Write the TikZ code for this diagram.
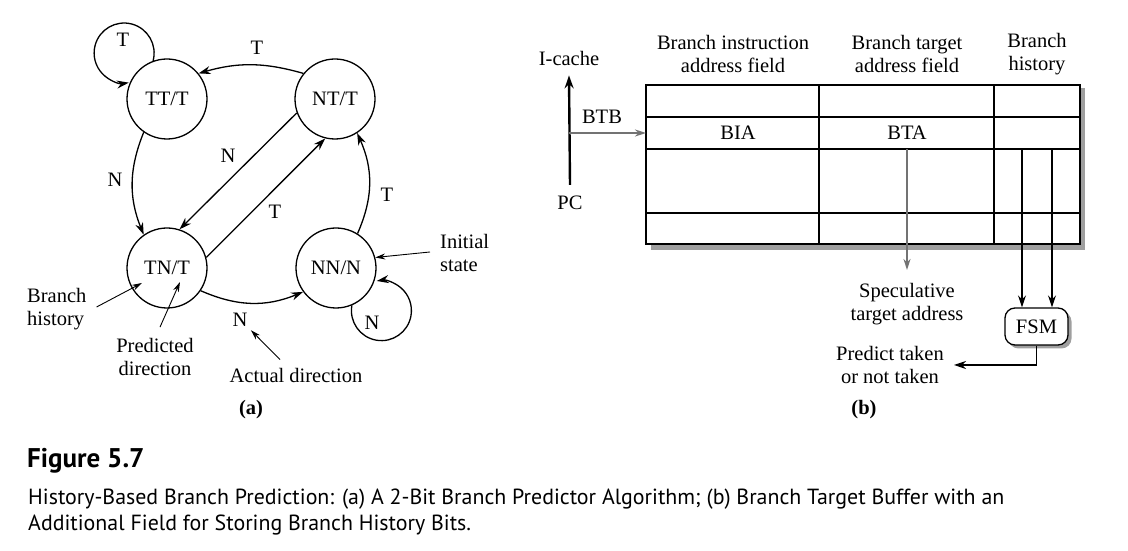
\documentclass[tikz,border=0pt]{standalone}
\usepackage{fontspec}
\setmainfont{Liberation Serif}
\newfontfamily\capfont{PT Sans}
\usetikzlibrary{arrows.meta}
\begin{document}
\begin{tikzpicture}[x=1pt,y=1pt,
  every node/.style={font=\fontsize{20.5}{23}\selectfont}]
  \tikzset{ st/.style={circle,draw,line width=1.3pt,minimum size=80pt,inner sep=0pt},
    arr/.style={line width=1.3pt,-{Stealth[length=12pt,width=8pt]}},
    ann/.style={line width=0.9pt,-{Stealth[length=10pt,width=6pt]}},
    gar/.style={line width=1.8pt,black!55,-{Stealth[length=11pt,width=7pt]}},
    txt/.style={inner sep=1pt,align=center},
    cell/.style={inner sep=0pt,minimum height=32pt},
  }
  \useasboundingbox (0,0) rectangle (1128,551);

  % (a) the four states
  \node[st] (TT) at (167,452) {TT/T};
  \node[st] (NT) at (335,452) {NT/T};
  \node[st] (TN) at (167,283) {TN/T};
  \node[st] (NN) at (336,283) {NN/N};

  % the transitions between the states
  \draw[arr] (TT.110) arc[start angle=-15,end angle=279,radius=30];
  \draw[arr] (NT.141) to[bend right=16] (TT.39);
  \draw[arr] (TT.235) to[bend right=22] (TN.125);
  \draw[arr] (NT.200) -- (TN.72);
  \draw[arr] (TN.15) -- (NT.256);
  \draw[arr] (NN.58) to[bend right=24] (NT.303);
  \draw[arr] (TN.326) to[bend right=23] (NN.216);
  \draw[arr] (NN.293) arc[start angle=170,end angle=459,radius=30];

  \node (lT1) at (123,511) {T};
  \node (lT2) at (257,503) {T};
  \node (lN1) at (115,371) {N};
  \node (lN2) at (228,395) {N};
  \node (lT3) at (275,339) {T};
  \node (lT4) at (387,356) {T};
  \node (lN3) at (240,231) {N};
  \node (lN4) at (372,228) {N};

  % notes
  \node[txt,align=left,anchor=west] (init) at (439,298) {Initial\\state};
  \draw[ann] ([xshift=-9pt,yshift=1pt]init.west) -- (NN.15);
  \node[txt,align=left,anchor=west] (hist) at (26,242) {Branch\\history};
  \draw[ann] ([xshift=9pt,yshift=2pt]hist.east) -- ([shift={(-25pt,-15pt)}]TN.center);
  \node[txt] (pred) at (155,194) {Predicted\\direction};
  \draw[ann] ([xshift=5pt,yshift=10pt]pred.north) -- ([shift={(13pt,-14pt)}]TN.center);
  \node[txt] (act) at (296,176) {Actual direction};
  \draw[ann] ([xshift=-16pt,yshift=7pt]act.north) -- (lN3.south east);
  \node[font=\fontsize{20.5}{23}\selectfont\bfseries] (la) at (251,141) {(a)};

  % (b) the buffer
  \fill[gray!75] (651,301) rectangle (1085,463);
  \draw[fill=white,line width=1.3pt] (646,307) rectangle (1080,466);
  \foreach \y in {434,402,338} \draw[line width=1.2pt] (646,\y) -- (1080,\y);
  \foreach \x in {819,994} \draw[line width=1.2pt] (\x,307) -- (\x,466);
  \node[cell] (BIA) at (738,418) {BIA};
  \node[cell] (BTA) at (907,418) {BTA};

  \node[txt] (hBIA) at (733,497) {Branch instruction\\address field};
  \node[txt] (hBTA) at (907,497) {Branch target\\address field};
  \node[txt] (hBH) at (1037,497) {Branch\\history};

  \node[txt] (ic) at (569,493) {I-cache};
  \node[txt] (PC) at (570,348) {PC};
  \node[txt] (btb) at (602,434) {BTB};
  \draw[line width=2.4pt,-{Stealth[length=13pt,width=9pt]}] ([yshift=10pt]PC.north) -- ([yshift=-9pt]ic.south);
  \coordinate (tap) at (569,418);
  \coordinate (tblW) at (646,418);
  \draw[gar] (tap) -- (tblW);

  \node[txt] (spec) at (907,247) {Speculative\\target address};
  \draw[gar] (BTA.south) -- ([yshift=12pt]spec.north);

  \node[rounded corners=10pt,fill=gray!75,minimum width=63pt,minimum height=37pt] (FSMs) at (1040,221) {};
  \node[draw,rounded corners=10pt,line width=1.3pt,fill=white,minimum width=63pt,minimum height=37pt] (FSM) at (1036.5,224.5) {FSM};
  \coordinate (h1) at (1022,402);
  \coordinate (h2) at (1052,402);
  \draw[arr] (h1) -- (h1 |- FSM.north);
  \draw[arr] (h2) -- (h2 |- FSM.north);
  \node[txt] (ptk) at (890,186) {Predict taken\\or not taken};
  \draw[arr] (FSM.south) |- ([xshift=9pt]ptk.east);
  \node[font=\fontsize{20.5}{23}\selectfont\bfseries] (lb) at (864,141) {(b)};

  % caption
  \node[anchor=base west,inner sep=0pt,font=\capfont\bfseries\fontsize{27}{30}\selectfont] (fig) at (27,83) {Figure 5.7};
  \node[anchor=base west,inner sep=0pt,font=\capfont\fontsize{21.9}{26}\selectfont] (cap1) at (28,46) {History-Based Branch Prediction: (a) A 2-Bit Branch Predictor Algorithm; (b) Branch Target Buffer with an};
  \node[anchor=base west,inner sep=0pt,font=\capfont\fontsize{21.9}{26}\selectfont] (cap2) at (28,20) {Additional Field for Storing Branch History Bits.};
\end{tikzpicture}
\end{document}
